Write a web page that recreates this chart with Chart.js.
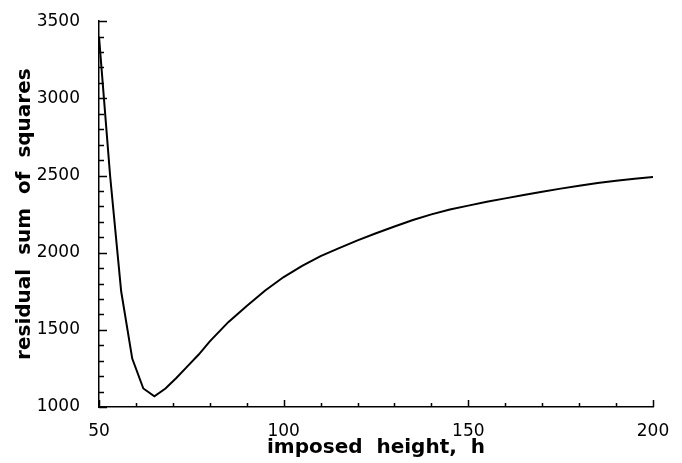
<!DOCTYPE html>
<html>
<head>
<meta charset="utf-8">
<script src="https://cdn.jsdelivr.net/npm/chart.js@4"></script>
<style>
  html, body { margin: 0; padding: 0; background: #fff; }
  #wrap { width: 682px; height: 463px; }
</style>
</head>
<body>
<div id="wrap"><canvas id="rssChart" width="682" height="463"></canvas></div>
<script>
// imposed height h (x) and residual sum of squares (y)
const heights = [50, 53, 56, 59, 62, 65, 68, 71, 74, 77, 80, 85, 90, 95, 100, 105, 110, 115, 120, 125, 130, 135, 140, 145, 150, 155, 160, 165, 170, 175, 180, 185, 190, 195, 200];
const rss = [3400, 2500, 1750, 1314, 1120, 1070, 1120, 1190, 1265, 1340, 1425, 1550, 1655, 1755, 1842, 1915, 1978, 2030, 2080, 2126, 2170, 2212, 2248, 2280, 2305, 2330, 2352, 2374, 2395, 2415, 2434, 2451, 2466, 2479, 2490];
const xTicks = [50, 100, 150, 200];
const yTicks = [1000, 1500, 2000, 2500, 3000, 3500];

// inward tick marks (major + minor) drawn on the axes
const innerTicks = {
    id: 'innerTicks',
    afterDraw(chart) {
        const { ctx, chartArea, scales } = chart;
        ctx.save();
        ctx.strokeStyle = '#000';
        ctx.lineWidth = 1.5;
        ctx.beginPath();
        for (let v = 1000; v <= 3500; v += 100) {
            const y = Math.round(scales.y.getPixelForValue(v)) + 0.5;
            const len = v % 500 === 0 ? 8 : 5;
            ctx.moveTo(chartArea.left, y);
            ctx.lineTo(chartArea.left + len, y);
        }
        for (let v = 50; v <= 200; v += 10) {
            const x = Math.round(scales.x.getPixelForValue(v)) + 0.5;
            const len = v % 50 === 0 ? 7 : 4;
            ctx.moveTo(x, chartArea.bottom);
            ctx.lineTo(x, chartArea.bottom - len);
        }
        ctx.stroke();
        ctx.restore();
    }
};

const tickFont = { family: 'DejaVu Sans', size: 17 };
const titleFont = { family: 'DejaVu Sans', size: 20, weight: 'bold' };

new Chart(document.getElementById('rssChart'), {
    type: 'line',
    data: {
        datasets: [{
            data: heights.map((h, i) => ({ x: h, y: rss[i] })),
            borderColor: '#000',
            borderWidth: 2,
            pointRadius: 0,
            tension: 0,
            fill: false
        }]
    },
    options: {
        responsive: false,
        animation: false,
        layout: { padding: { top: 17, right: 29, bottom: 0, left: 0 } },
        plugins: { legend: { display: false }, tooltip: { enabled: false } },
        scales: {
            x: {
                type: 'linear',
                min: 50,
                max: 200,
                afterFit: s => { s.height = 56; },
                afterBuildTicks: s => { s.ticks = xTicks.map(v => ({ value: v })); },
                grid: { display: false },
                border: { display: true, color: '#000', width: 1.5 },
                ticks: { color: '#000', font: tickFont, padding: 6, maxRotation: 0, callback: v => String(v) },
                title: {
                    display: true,
                    text: 'imposed  height,  h',
                    color: '#000',
                    font: titleFont,
                    padding: { top: 0, bottom: 3 }
                }
            },
            y: {
                min: 1000,
                max: 3500,
                afterFit: s => { s.width = 99; },
                afterBuildTicks: s => { s.ticks = yTicks.map(v => ({ value: v })); },
                grid: { display: false },
                border: { display: true, color: '#000', width: 1.5 },
                ticks: { color: '#000', font: tickFont, padding: 11, callback: v => String(v) },
                title: {
                    display: true,
                    text: 'residual  sum  of  squares',
                    color: '#000',
                    font: titleFont,
                    padding: { top: 13, bottom: 0 }
                }
            }
        }
    },
    plugins: [innerTicks]
});
</script>
</body>
</html>
